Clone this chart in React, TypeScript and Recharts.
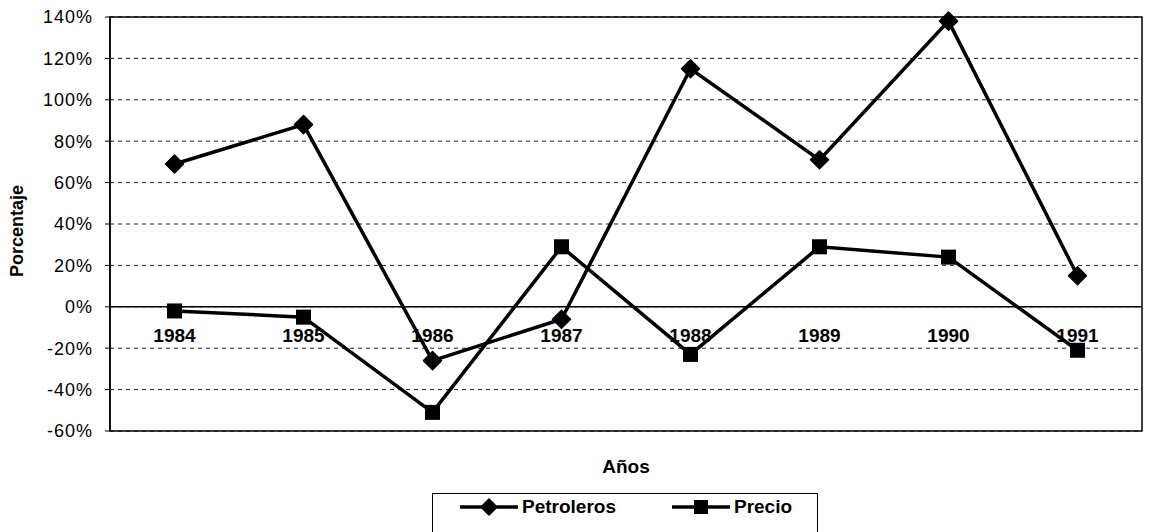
import React from 'react';
import {
  LineChart,
  Line,
  XAxis,
  YAxis,
  CartesianGrid,
  ReferenceLine,
  ReferenceArea,
  ReferenceDot,
} from 'recharts';

const years = ['1984', '1985', '1986', '1987', '1988', '1989', '1990', '1991'];
const petroleros = [69, 88, -26, -6, 115, 71, 138, 15];
const precio = [-2, -5, -51, 29, -23, 29, 24, -21];
const yTicks = [-60, -40, -20, 0, 20, 40, 60, 80, 100, 120, 140];

const data = years.map((year, i) => ({
  year,
  petroleros: petroleros[i],
  precio: precio[i],
}));

const FONT = '"Liberation Sans", Arial, sans-serif';

function Diamond({ cx, cy, size = 9 }: { cx: number; cy: number; size?: number }) {
  return (
    <path
      d={`M${cx},${cy - size} L${cx + size},${cy} L${cx},${cy + size} L${cx - size},${cy} Z`}
      fill="#000"
      stroke="#000"
      strokeLinejoin="round"
      strokeWidth={1.5}
    />
  );
}

function Square({ cx, cy, size = 7.5 }: { cx: number; cy: number; size?: number }) {
  return <rect x={cx - size} y={cy - size} width={size * 2} height={size * 2} fill="#000" />;
}

function LegendSymbol({ kind }: { kind: 'diamond' | 'square' }) {
  return (
    <svg width={58} height={20} style={{ display: 'block' }}>
      <line x1={0} y1={10} x2={58} y2={10} stroke="#000" strokeWidth={3.5} />
      {kind === 'diamond' ? <Diamond cx={29} cy={10} size={8} /> : <Square cx={29} cy={10} size={7} />}
    </svg>
  );
}

function ChartLegend() {
  const text: React.CSSProperties = {
    fontFamily: FONT,
    fontSize: 19,
    fontWeight: 'bold',
    marginLeft: 4,
    lineHeight: '20px',
  };
  return (
    <div
      style={{
        position: 'absolute',
        left: 424,
        top: 485,
        width: 386,
        height: 44,
        border: '1px solid #000',
        display: 'flex',
        alignItems: 'flex-start',
        paddingTop: 3,
        boxSizing: 'border-box',
      }}
    >
      <div style={{ display: 'flex', alignItems: 'center', marginLeft: 27 }}>
        <LegendSymbol kind="diamond" />
        <span style={text}>Petroleros</span>
      </div>
      <div style={{ display: 'flex', alignItems: 'center', marginLeft: 56 }}>
        <LegendSymbol kind="square" />
        <span style={text}>Precio</span>
      </div>
    </div>
  );
}

export default function App() {
  return (
    <div style={{ position: 'relative', width: 1143, height: 524 }}>
      <LineChart
        width={1143}
        height={524}
        data={data}
        margin={{ top: 9, right: 9, left: 0, bottom: 0 }}
      >
        <CartesianGrid vertical={false} stroke="#222" strokeDasharray="4 4" />
        <ReferenceArea y1={-60} y2={140} fill="none" stroke="#000" strokeWidth={1.5} />
        <XAxis
          dataKey="year"
          scale="band"
          height={101}
          axisLine={false}
          tickLine={false}
          tick={false}
          label={{
            value: 'Años',
            position: 'insideTop',
            offset: 29,
            fill: '#000',
            fontSize: 19,
            fontWeight: 'bold',
            fontFamily: FONT,
          }}
        />
        <YAxis
          width={102}
          domain={[-60, 140]}
          ticks={yTicks}
          interval={0}
          tickFormatter={(v: number) => `${v}%`}
          axisLine={{ stroke: '#000', strokeWidth: 1.5 }}
          tickLine={{ stroke: '#000' }}
          tickSize={5}
          tickMargin={12}
          tick={{ fill: '#000', fontSize: 18, fontFamily: FONT, letterSpacing: 1 }}
          label={{
            content: ({ viewBox }: any) => {
              const cx = viewBox.x + 9;
              const cy = viewBox.y + viewBox.height / 2 + 7;
              return (
                <text
                  x={cx}
                  y={cy}
                  transform={`rotate(-90 ${cx} ${cy})`}
                  textAnchor="middle"
                  dominantBaseline="central"
                  fill="#000"
                  fontSize={18}
                  fontWeight="bold"
                  fontFamily={FONT}
                >
                  Porcentaje
                </text>
              );
            },
          }}
        />
        <ReferenceLine y={0} stroke="#000" strokeWidth={1.5} />
        {years.map((y) => (
          <ReferenceDot
            key={y}
            x={y}
            y={0}
            r={1}
            fill="none"
            stroke="none"
            label={{
              value: y,
              position: 'bottom',
              offset: 21,
              fill: '#000',
              fontSize: 19,
              fontWeight: 'bold',
              fontFamily: FONT,
            }}
          />
        ))}
        <Line
          dataKey="petroleros"
          stroke="#000"
          strokeWidth={3.5}
          isAnimationActive={false}
          dot={(p: any) => <Diamond key={`p-${p.index}`} cx={p.cx} cy={p.cy} />}
          activeDot={false}
        />
        <Line
          dataKey="precio"
          stroke="#000"
          strokeWidth={3.5}
          isAnimationActive={false}
          dot={(p: any) => <Square key={`s-${p.index}`} cx={p.cx} cy={p.cy} />}
          activeDot={false}
        />
      </LineChart>
      <ChartLegend />
    </div>
  );
}
